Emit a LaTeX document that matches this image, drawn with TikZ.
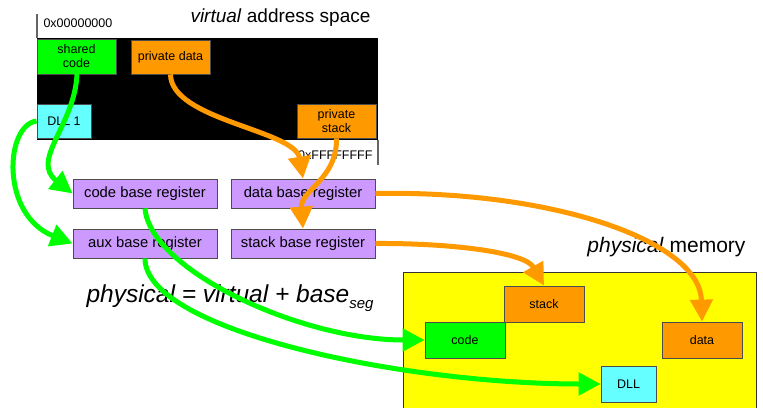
\documentclass[tikz,border=0pt]{standalone}
\usepackage{fontspec}
\setmainfont{Liberation Sans}
\usetikzlibrary{arrows.meta}
\definecolor{segGreen}{HTML}{00FF00}
\definecolor{segOrange}{HTML}{FF9900}
\definecolor{segCyan}{HTML}{66FFFF}
\definecolor{segPurple}{HTML}{CC99FF}
\definecolor{segYellow}{HTML}{FFFF00}

\begin{document}
\begin{tikzpicture}[x=1pt,y=-1pt,
  seg/.style={draw=black!70, line width=0.8pt, minimum width=79pt, minimum height=34pt,
    inner sep=0pt, align=center, font=\fontsize{12.5}{14}\selectfont},
  reg/.style={seg, fill=segPurple, minimum width=144pt, minimum height=29pt,
    font=\fontsize{14.8}{16}\selectfont},
  greenarr/.style={line width=5pt, draw=segGreen, -{Triangle[length=22pt,width=22pt]}},
  orangearr/.style={line width=5pt, draw=segOrange, -{Triangle[length=22pt,width=22pt]}}]
\useasboundingbox (0,0) rectangle (763,407);

% virtual address space
\draw [black!60, line width=1.2pt] (37,14) -- (37,38);
\draw [black!60, line width=1.2pt] (378,140) -- (378,165);
\fill [black] (37,38) rectangle (378,140);
\node (vlow) [anchor=west, font=\fontsize{12.5}{14}\selectfont] at (40,23) {0x00000000};
\node (vtitle) [anchor=east, font=\fontsize{19}{20}\selectfont] at (374,18) {\textit{virtual} address space};
\node (vhigh) [anchor=east, font=\fontsize{12.5}{14}\selectfont] at (376,155) {0xFFFFFFFF};

\node (shared) [seg, fill=segGreen, minimum height=35pt] at (76.5,56.5) {shared\\code};
\node (privdata) [seg, fill=segOrange] at (170.5,57) {private data};
\node (dll1) [seg, fill=segCyan, minimum width=54pt] at (64,121) {DLL 1};
\node (privstack) [seg, fill=segOrange] at (336.5,121) {private\\stack};

% base registers
\node (codereg) [reg] at (145,193.5) {code base register};
\node (datareg) [reg] at (303,193.5) {data base register};
\node (auxreg) [reg] at (145,243.5) {aux base register};
\node (stackreg) [reg] at (303,243.5) {stack base register};

% physical memory
\fill [segYellow] (403,272) rectangle (756,412);
\draw [black!80, line width=0.8pt] (403,412) -- (403,272) -- (756,272) -- (756,412);
\node (ptitle) [anchor=east, font=\fontsize{21}{22}\selectfont] at (749,247) {\textit{physical} memory};
\node (stack) [seg, fill=segOrange, minimum width=80pt, minimum height=36pt] at (544,304) {stack};
\node (code) [seg, fill=segGreen, minimum width=80pt, minimum height=36pt] at (465,340) {code};
\node (data) [seg, fill=segOrange, minimum width=80pt, minimum height=36pt] at (702,340) {data};
\node (dll) [seg, fill=segCyan, minimum width=55pt, minimum height=36pt] at (628.5,384) {DLL};

\node (formula) [anchor=west, font=\fontsize{24.5}{26}\selectfont] at (83,298)
  {\textit{physical = virtual + base}\raisebox{-6pt}{\fontsize{15}{15}\selectfont\itshape seg}};

% mapping arrows
\draw [greenarr] (77,74) .. controls (75,125) and (30,160) .. (codereg.west);
\draw [greenarr] (dll1.west) .. controls (5,125) and (0,215) .. (auxreg.west);
\draw [orangearr] (privdata.south) .. controls (171,120) and (295,130) .. (datareg.north);
\draw [orangearr] (privstack.south) .. controls (337,180) and (300,190) .. (stackreg.north);
\draw [greenarr] (codereg.south) .. controls (150,270) and (300,340) .. (code.west);
\draw [greenarr] (auxreg.south) .. controls (145,330) and (400,384) .. (dll.west);
\draw [orangearr] (datareg.east) .. controls (550,190) and (700,240) .. (data.north);
\draw [orangearr] (stackreg.east) .. controls (450,243) and (525,252) .. (stack.north);
\end{tikzpicture}
\end{document}
